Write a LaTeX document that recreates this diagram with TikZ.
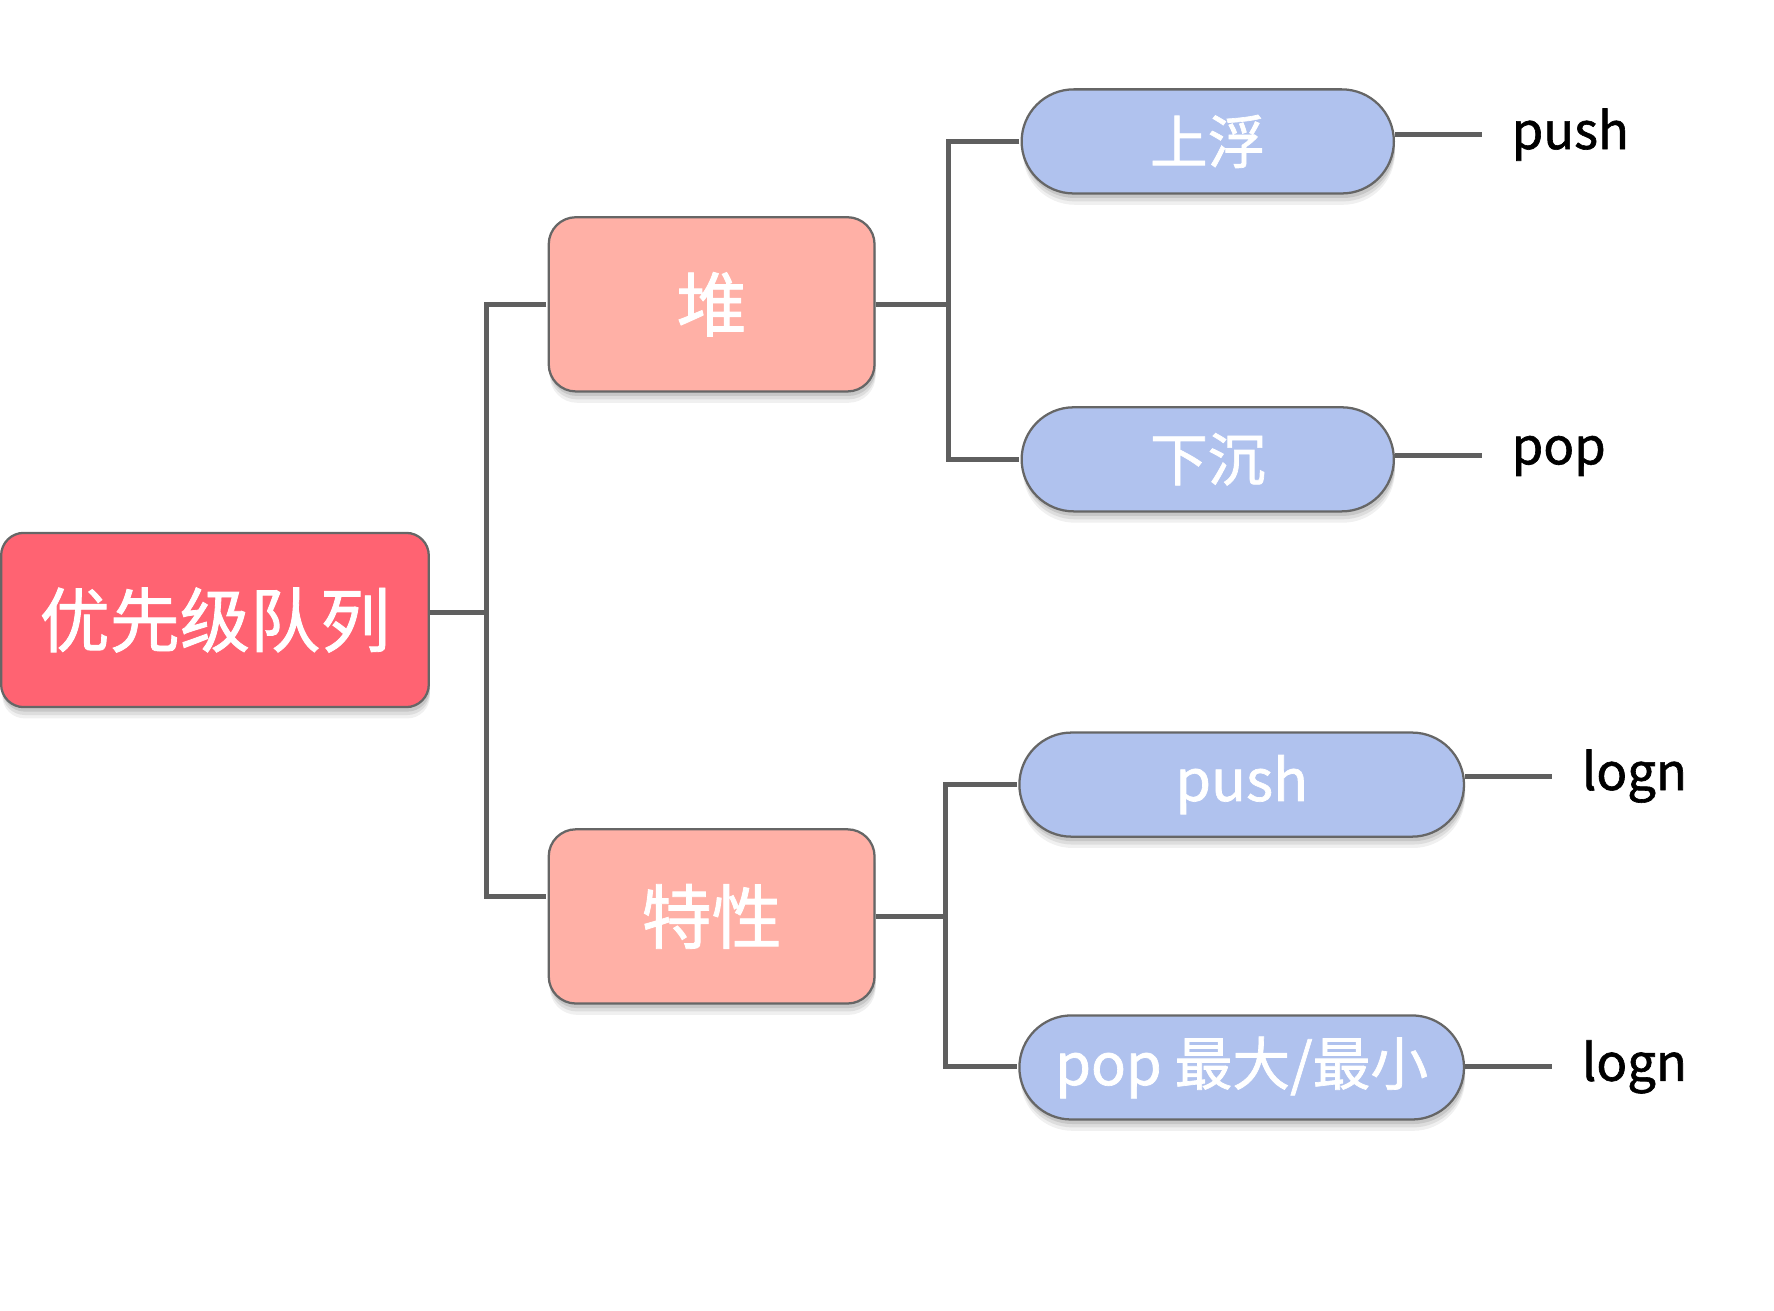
\documentclass[tikz,border=0pt]{standalone}
\usepackage{fontspec}
\setmainfont{Noto Sans CJK SC}[BoldFont={Noto Sans CJK SC},BoldFeatures={FakeBold=1.2}]
\usetikzlibrary{shadows,positioning}
\definecolor{rootred}{HTML}{FF6372}
\definecolor{salmon}{HTML}{FFB0A6}
\definecolor{peri}{HTML}{B0C2EE}
\definecolor{edge}{HTML}{666666}
\definecolor{conncol}{HTML}{5F5F5F}
\tikzset{
  shad/.style={
    drop shadow={shadow xshift=1pt, shadow yshift=-4pt, opacity=.10, fill=black},
    drop shadow={shadow xshift=1pt, shadow yshift=-7pt, opacity=.08, fill=black},
    drop shadow={shadow xshift=1pt, shadow yshift=-10pt, opacity=.06, fill=black}},
  rootbox/.style={draw=edge, line width=2pt, fill=rootred, rounded corners=20pt, shad,
    minimum width=378pt, minimum height=154pt, inner sep=0pt, text=white,
    font=\fontsize{62}{70}\selectfont\bfseries},
  midbox/.style={draw=edge, line width=2pt, fill=salmon, rounded corners=24pt, shad,
    minimum width=288pt, minimum height=154pt, inner sep=0pt, text=white,
    font=\fontsize{62}{70}\selectfont\bfseries},
  pill/.style={draw=edge, line width=2pt, fill=peri, rounded corners=46pt, shad,
    minimum height=92pt, inner sep=0pt, text=white,
    font=\fontsize{51}{60}\selectfont\bfseries},
  leaf/.style={inner sep=0pt, anchor=west, text=black, font=\fontsize{45}{52}\selectfont\bfseries},
  conn/.style={draw=conncol, line width=4.5pt}
}
\begin{document}
\begin{tikzpicture}[x=1pt,y=-1pt]
\useasboundingbox (0,0) rectangle (1568,1158);
\node[rootbox] (root) at (190,548) {优先级队列};
\node[midbox] (heap) at (629,269) {堆};
\node[midbox] (feat) at (629,810) {特性};
\node[pill, minimum width=329pt] (up) at (1067.5,125) {上浮};
\node[pill, minimum width=329pt] (down) at (1067.5,406) {下沉};
\node[pill, minimum width=393pt] (ppush) at (1097.5,693.5) {push};
\node[pill, minimum width=393pt] (ppop) at (1097.5,943.5) {pop 最大/最小};
\node[leaf] (l1) at (1336,119) {push};
\node[leaf] (l2) at (1336,403) {pop};
\node[leaf] (l3) at (1398,686) {logn};
\node[leaf] (l4) at (1398,943) {logn};
\coordinate (j1) at (430,541);
\coordinate (j2) at (838,269);
\coordinate (j3) at (836,810);
% root branch
\draw[conn] (root.east |- j1) -- (j1);
\draw[conn] ([xshift=-1pt]heap.west) -| (j1) |- ([xshift=-1pt,yshift=18pt]feat.west);
% heap branch
\draw[conn] (heap.east) -- (j2);
\draw[conn] ([xshift=-1pt]up.west) -| (j2) |- ([xshift=-1pt]down.west);
% feature branch
\draw[conn] (feat.east) -- (j3);
\draw[conn] ([xshift=-1pt,yshift=0.5pt]ppush.west) -| (j3) |- ([xshift=-1pt,yshift=0.5pt]ppop.west);
% leaves
\draw[conn] (up.east |- l1.west) -- ([xshift=-26pt]l1.west);
\draw[conn] (down.east |- l2.west) -- ([xshift=-26pt]l2.west);
\draw[conn] (ppush.east |- l3.west) -- ([xshift=-26pt]l3.west);
\draw[conn] (ppop.east |- l4.west) -- ([xshift=-26pt]l4.west);
\end{tikzpicture}
\end{document}
